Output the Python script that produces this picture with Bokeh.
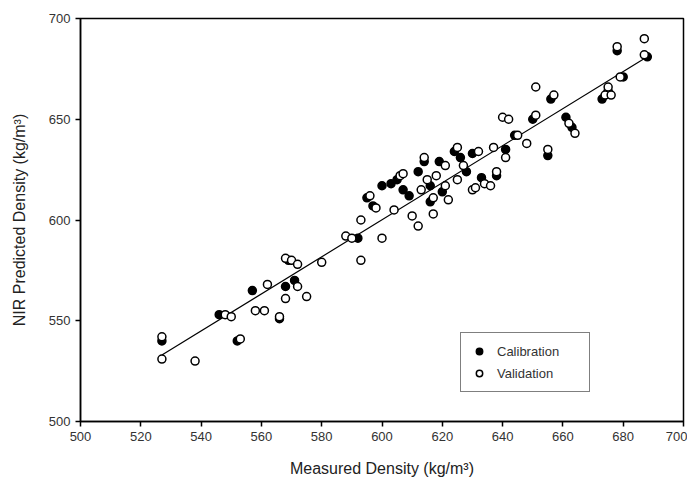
from bokeh.plotting import figure
from bokeh.models import Range1d, Legend, LegendItem, FixedTicker
from bokeh.embed import file_html
from bokeh.resources import INLINE

# Calibration samples (filled markers): measured vs NIR predicted density
cal_x = [527, 546, 552, 557, 566, 569, 571, 592, 595, 600, 605, 607, 609, 612, 614,
         616, 616, 619, 620, 624, 626, 630, 633, 638, 641, 644, 650, 655, 656, 661,
         663, 673, 675, 678, 680, 688, 568, 597, 628, 603]
cal_y = [540, 553, 540, 565, 551, 580, 570, 591, 611, 617, 620, 615, 612, 624, 629,
         617, 609, 629, 614, 634, 631, 633, 621, 622, 635, 642, 650, 632, 660, 651,
         646, 660, 664, 684, 671, 681, 567, 607, 624, 618]

# Validation samples (open markers)
val_x = [527, 527, 538, 548, 550, 553, 558, 561, 562, 566, 568, 568, 570, 572, 572,
         575, 580, 588, 590, 593, 593, 596, 598, 600, 604, 606, 607, 610, 612, 613,
         614, 615, 617, 617, 618, 621, 621, 622, 625, 625, 627, 630, 631, 632, 634,
         636, 637, 638, 640, 642, 641, 645, 648, 651, 651, 655, 657, 662, 664, 674,
         675, 676, 678, 679, 687, 687]
val_y = [542, 531, 530, 553, 552, 541, 555, 555, 568, 552, 561, 581, 580, 567, 578,
         562, 579, 592, 591, 600, 580, 612, 606, 591, 605, 622, 623, 602, 597, 615,
         631, 620, 611, 603, 622, 627, 617, 610, 636, 620, 627, 615, 616, 634, 618,
         617, 636, 624, 651, 650, 631, 642, 638, 652, 666, 635, 662, 648, 643, 662,
         666, 662, 686, 671, 690, 682]

# Regression line end points
fit_x = [527, 688]
fit_y = [533, 681]

x_ticks = [500, 520, 540, 560, 580, 600, 620, 640, 660, 680, 700]
y_ticks = [500, 550, 600, 650, 700]

FONT = "Liberation Sans"

p = figure(width=687, height=484, output_backend="svg", toolbar_location=None,
           x_range=Range1d(500, 700), y_range=Range1d(500, 700),
           min_border_left=80, min_border_right=4, min_border_top=18,
           min_border_bottom=63)

p.grid.visible = False
p.outline_line_color = "black"
p.outline_line_width = 1.5
p.background_fill_color = "white"
p.border_fill_color = "white"

for ax in (p.xaxis, p.yaxis):
    ax.axis_line_width = 1.5
    ax.axis_line_color = "black"
    ax.major_tick_line_width = 1.5
    ax.major_tick_in = 0
    ax.major_tick_out = 5
    ax.minor_tick_line_color = None
    ax.major_label_text_font = FONT
    ax.major_label_text_font_size = "13px"
    ax.major_label_text_color = "#333333"
    ax.axis_label_text_font = FONT
    ax.axis_label_text_font_size = "16px"
    ax.axis_label_text_font_style = "normal"
    ax.axis_label_text_color = "#222222"

p.xaxis.ticker = FixedTicker(ticks=x_ticks)
p.yaxis.ticker = FixedTicker(ticks=y_ticks)
p.xaxis.axis_label = "Measured Density (kg/m³)"
p.yaxis.axis_label = "NIR Predicted Density (kg/m³)"
p.xaxis.axis_label_standoff = 16
p.yaxis.axis_label_standoff = 18

p.line(fit_x, fit_y, line_color="black", line_width=1.2)

r_cal = p.scatter(cal_x, cal_y, marker="circle", size=8, fill_color="black",
                  line_color="black", line_width=1.5)
r_val = p.scatter(val_x, val_y, marker="circle", size=8, fill_color="white",
                  line_color="black", line_width=1.5)

legend = Legend(items=[LegendItem(label="Calibration", renderers=[r_cal]),
                       LegendItem(label="Validation", renderers=[r_val])],
                location=(380, 29))
legend.border_line_color = "black"
legend.border_line_width = 1.5
legend.label_text_font = FONT
legend.label_text_font_size = "13px"
legend.label_text_color = "#333333"
legend.padding = 10
legend.spacing = 6
legend.margin = 0
legend.glyph_width = 16
legend.glyph_height = 16
legend.label_standoff = 10
legend.label_width = 82
legend.background_fill_alpha = 1
p.add_layout(legend, "center")

open("out.html", "w").write(file_html(p, INLINE))
